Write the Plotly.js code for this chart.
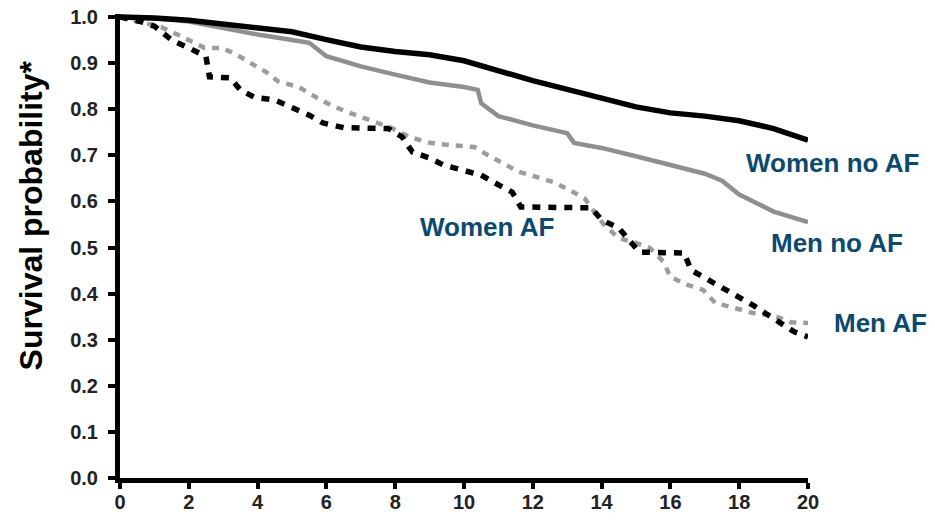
<!DOCTYPE html>
<html>
<head>
<meta charset="utf-8">
<script src="https://cdn.plot.ly/plotly-3.0.1.min.js"></script>
<style>html,body{margin:0;padding:0;background:#fff;}#chart{width:935px;height:520px;}</style>
</head>
<body>
<div id="chart"></div>
<script>
// Years of follow-up and survival probabilities
const tWomenNoAF = [0, 1, 2, 3, 4, 5, 6, 7, 8, 9, 10, 11, 12, 13, 14, 15, 16, 17, 18, 19, 20];
const sWomenNoAF = [1.0, 0.998, 0.993, 0.985, 0.978, 0.968, 0.951, 0.935, 0.925, 0.918, 0.905, 0.882, 0.862, 0.843, 0.825, 0.805, 0.792, 0.785, 0.775, 0.758, 0.733];

const tMenNoAF = [0, 1, 2, 3, 4, 5, 5.5, 6, 7, 8, 9, 10, 10.4, 10.5, 11, 12, 13, 13.2, 14, 15, 16, 17, 17.5, 18, 19, 20];
const sMenNoAF = [1.0, 0.997, 0.99, 0.975, 0.962, 0.95, 0.944, 0.915, 0.893, 0.875, 0.858, 0.848, 0.842, 0.813, 0.785, 0.765, 0.748, 0.727, 0.716, 0.698, 0.68, 0.66, 0.645, 0.615, 0.578, 0.555];

const tWomenAF = [0, 0.6, 1.0, 1.5, 2.0, 2.5, 2.6, 3.2, 3.5, 3.9, 4.5, 5.0, 5.5, 5.9, 6.5, 7.8, 8.2, 8.5, 9.0, 9.4, 10.0, 10.5, 10.9, 11.4, 11.65, 13.7, 14.0, 14.5, 14.8, 15.1, 16.4, 16.6, 17.0, 17.5, 17.9, 18.4, 18.75, 19.2, 19.6, 20];
const sWomenAF = [1.0, 0.99, 0.98, 0.95, 0.933, 0.914, 0.87, 0.868, 0.842, 0.826, 0.82, 0.803, 0.787, 0.77, 0.76, 0.758, 0.74, 0.707, 0.694, 0.679, 0.668, 0.657, 0.64, 0.62, 0.588, 0.586, 0.56, 0.542, 0.516, 0.49, 0.488, 0.451, 0.434, 0.414, 0.397, 0.375, 0.358, 0.338, 0.317, 0.306];

const tMenAF = [0, 1.2, 1.7, 2.46, 2.96, 3.4, 3.8, 4.26, 4.6, 5.2, 5.7, 6.1, 6.6, 7.0, 7.5, 7.9, 8.4, 9.0, 9.6, 10.3, 10.7, 11.1, 11.6, 12.1, 12.6, 13.05, 13.5, 14.06, 14.5, 15.0, 15.4, 15.8, 16.0, 16.5, 16.95, 17.3, 17.8, 18.4, 18.8, 19.2, 19.5, 20];
const sMenAF = [1.0, 0.978, 0.961, 0.933, 0.933, 0.918, 0.90, 0.88, 0.86, 0.848, 0.826, 0.81, 0.794, 0.783, 0.77, 0.759, 0.74, 0.727, 0.722, 0.718, 0.70, 0.683, 0.664, 0.653, 0.642, 0.625, 0.607, 0.55, 0.52, 0.51, 0.499, 0.469, 0.436, 0.419, 0.408, 0.38, 0.369, 0.358, 0.354, 0.347, 0.338, 0.336];

const xTicks = [0, 2, 4, 6, 8, 10, 12, 14, 16, 18, 20];
const yTicks = [0.0, 0.1, 0.2, 0.3, 0.4, 0.5, 0.6, 0.7, 0.8, 0.9, 1.0];
const yTickText = ['0.0', '0.1', '0.2', '0.3', '0.4', '0.5', '0.6', '0.7', '0.8', '0.9', '1.0'];

const seriesLabels = ['Women no AF', 'Men no AF', 'Women AF', 'Men AF'];
const labelX = [1.035, 1.042, 0.533, 1.105];
const labelY = [0.679, 0.506, 0.541, 0.334];

const FONT = 'Liberation Sans, Arial, Helvetica, sans-serif';
const LABEL_COLOR = '#0b4a6e';

const traces = [
  {x: tMenAF, y: sMenAF, mode: 'lines', line: {color: '#9c9c9c', width: 4.5, dash: '7px,7px'}},
  {x: tWomenAF, y: sWomenAF, mode: 'lines', line: {color: '#000000', width: 5.5, dash: '8px,8px'}},
  {x: tMenNoAF, y: sMenNoAF, mode: 'lines', line: {color: '#8f8f8f', width: 4.5}},
  {x: tWomenNoAF, y: sWomenNoAF, mode: 'lines', line: {color: '#000000', width: 5.5}}
];

const annotations = seriesLabels.map((txt, i) => ({
  x: labelX[i], y: labelY[i], xref: 'paper', yref: 'paper', text: txt, showarrow: false,
  xanchor: 'center', yanchor: 'middle',
  font: {family: FONT, size: 26, color: LABEL_COLOR, weight: 700}
}));
annotations.push({
  x: -0.13, y: 0.565, xref: 'paper', yref: 'paper', text: 'Survival probability*',
  textangle: -90, showarrow: false, xanchor: 'center', yanchor: 'middle',
  font: {family: FONT, size: 32, color: '#000000', weight: 700}
});

const layout = {
  width: 935, height: 520,
  margin: {l: 120, r: 127, t: 14, b: 42, pad: 0},
  paper_bgcolor: '#ffffff', plot_bgcolor: '#ffffff',
  showlegend: false,
  xaxis: {
    range: [0, 20], tickvals: xTicks, ticktext: xTicks.map(String),
    showline: true, linecolor: '#000', linewidth: 5, mirror: false,
    ticks: 'outside', ticklen: 6, tickwidth: 4, tickcolor: '#000',
    showgrid: false, zeroline: false, ticklabelstandoff: -4,
    tickfont: {family: FONT, size: 20, color: '#222', weight: 700}
  },
  yaxis: {
    range: [0, 1.0065], tickvals: yTicks, ticktext: yTickText,
    showline: true, linecolor: '#000', linewidth: 5,
    ticks: 'outside', ticklen: 7, tickwidth: 4, tickcolor: '#000',
    showgrid: false, zeroline: false, ticklabelstandoff: 6,
    tickfont: {family: FONT, size: 20, color: '#222', weight: 700}
  },
  annotations: annotations
};

Plotly.newPlot('chart', traces, layout, {displayModeBar: false, staticPlot: true});
</script>
</body>
</html>
